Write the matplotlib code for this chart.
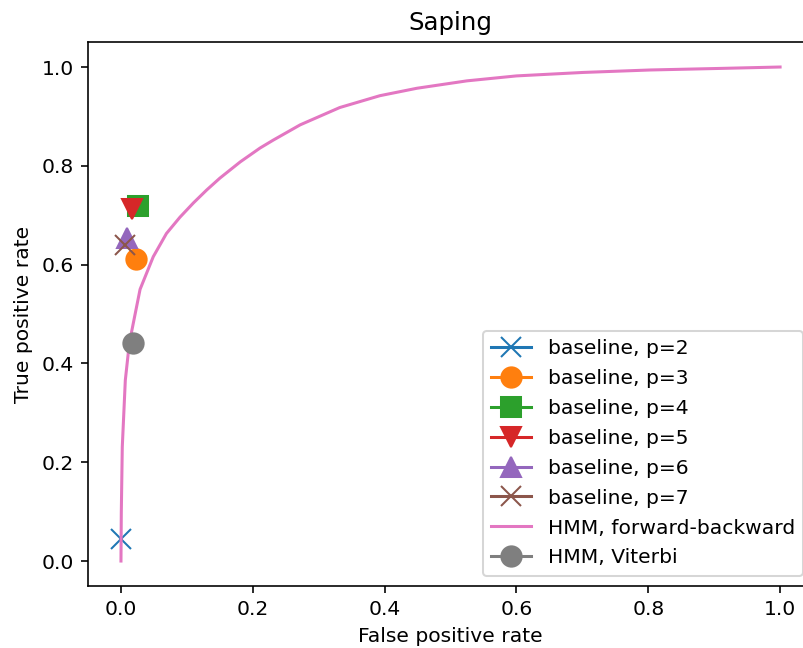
import matplotlib
matplotlib.use('Agg')
import matplotlib.pyplot as plt

# baseline points (false positive rate, true positive rate)
baseline_p = [2, 3, 4, 5, 6, 7]
baseline_markers = ['x', 'o', 's', 'v', '^', 'x']
baseline_fpr = [0.0, 0.023, 0.026, 0.016, 0.0086, 0.006]
baseline_tpr = [0.0445, 0.611, 0.718, 0.713, 0.654, 0.640]

# HMM forward-backward ROC curve
hmm_fpr = [0, 0.0005, 0.002, 0.0066, 0.0127, 0.02, 0.029, 0.049, 0.069, 0.0895,
           0.11, 0.130, 0.150, 0.181, 0.211, 0.231, 0.272, 0.332, 0.393, 0.449,
           0.525, 0.600, 0.701, 0.803, 0.904, 1.0]
hmm_tpr = [0, 0.097, 0.231, 0.366, 0.441, 0.49, 0.55, 0.616, 0.663, 0.696,
           0.725, 0.751, 0.775, 0.808, 0.836, 0.852, 0.883, 0.918, 0.942, 0.957,
           0.972, 0.982, 0.989, 0.994, 0.997, 1.0]

# HMM Viterbi point
viterbi_fpr = [0.019]
viterbi_tpr = [0.441]

dpi = 146
fig = plt.figure(figsize=(803 / dpi, 648 / dpi), dpi=dpi)
ax = fig.add_axes([0.1096, 0.0961, 0.9029, 0.8386])

for p, m, x, y in zip(baseline_p, baseline_markers, baseline_fpr, baseline_tpr):
    ax.plot([x], [y], marker=m, markersize=10, label='baseline, p={}'.format(p))

ax.plot(hmm_fpr, hmm_tpr, label='HMM, forward-backward')
ax.plot(viterbi_fpr, viterbi_tpr, marker='o', markersize=10, label='HMM, Viterbi')

ax.set_xlim(-0.05, 1.05)
ax.set_ylim(-0.05, 1.05)
ax.set_xlabel('False positive rate')
ax.set_ylabel('True positive rate')
ax.set_title('Saping')
ax.legend(loc='lower right', labelspacing=0.54)

fig.savefig('out.png', dpi=dpi)
